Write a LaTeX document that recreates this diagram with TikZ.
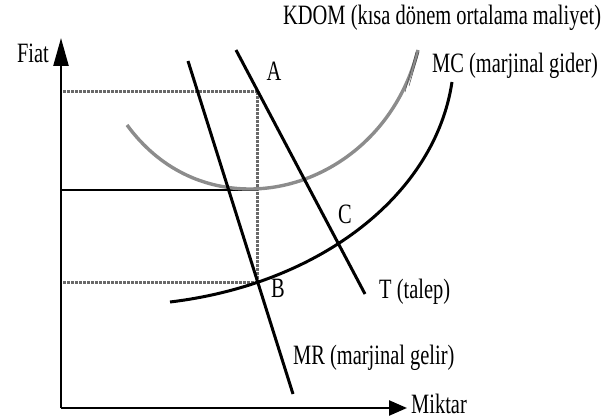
\documentclass[tikz,border=0pt]{standalone}
\usepackage{fontspec}
\setmainfont[FakeStretch=0.73]{Liberation Serif}
\usetikzlibrary{arrows.meta,intersections}
\definecolor{kdomgray}{RGB}{140,140,140}
\definecolor{dotgray}{RGB}{105,105,105}
\tikzset{
  yaxis/.style={line width=2.4pt, -{Triangle[length=28pt,width=15pt]}},
  xaxis/.style={line width=2.4pt, -{Triangle[length=18pt,width=15pt]}},
  curve/.style={line width=3pt, black},
  kdom/.style={line width=3.4pt, kdomgray},
  guide/.style={line width=3pt, dotgray, dash pattern=on 2.5pt off 1.5pt},
  plain/.style={line width=2pt, black},
  lbl/.style={font=\fontsize{28}{30}\selectfont, inner sep=0pt},
}
\begin{document}
\begin{tikzpicture}[x=1pt,y=-1pt]
\useasboundingbox (0,0) rectangle (610,420);
% axes
\coordinate (O) at (61,408);
\coordinate (Ytop) at (61,38);
\coordinate (Xend) at (407,408);
\draw[yaxis] (O) -- (Ytop);
\draw[xaxis] (O) -- (Xend);
% MR and T
\coordinate (MRtop) at (188,61);
\coordinate (MRbot) at (293,394);
\coordinate (Ttop) at (236,50);
\coordinate (Tbot) at (365,294);
\path[name path=mr] (MRtop) -- (MRbot);
\path[name path=t] (Ttop) -- (Tbot);
\path[name path=mc] (170,302) .. controls (320,284) and (435,195) .. (452,82);
\path[name intersections={of=mr and mc, by=B}];
\path[name intersections={of=t and mc, by=C}];
\coordinate (A) at (B |- 0,91);
\coordinate (Ptop) at (63,91);
\coordinate (Pmid) at (61,190);
\coordinate (Kmin) at (B |- 0,190);
\coordinate (Plow) at (63,0 |- B);
% guides
\draw[guide] (Ptop) -- (A) -- (B);
\draw[guide] (Plow) -- (B);
\draw[plain] (Pmid) -- (Kmin);
% KDOM
\draw[kdom] (127,125) .. controls (160,170) and (205,189) .. (250,189)
  .. controls (320,189) and (395,140) .. (418,50);
\draw[line width=0.5pt, black!70] (405,92) -- (416,52);
\draw[line width=0.5pt, black!70] (409,86) -- (419,52);
% MC
\draw[curve] (170,302) .. controls (320,284) and (435,195) .. (452,82);
% MR and T lines
\draw[curve] (MRtop) -- (MRbot);
\draw[curve] (Ttop) -- (Tbot);
% labels
\node[lbl, anchor=base east] (fiat) at (49,63) {Fiat};
\node[lbl, anchor=base west] (miktar) at (411,413) {Miktar};
\node[lbl, anchor=base] (la) at (274,80) {A};
\node[lbl, anchor=base west] (lb) at (271,297) {B};
\node[lbl, anchor=base west] (lc) at (338,223) {C};
\node[lbl, anchor=base west] (lt) at (379,298) {T (talep)};
\node[lbl, anchor=base west] (lmr) at (293,364) {MR (marjinal gelir)};
\node[lbl, anchor=base west] (lmc) at (432,72) {MC (marjinal gider)};
\node[lbl, anchor=base west] (lk) at (283,25) {KDOM (kısa dönem ortalama maliyet)};
\end{tikzpicture}
\end{document}
